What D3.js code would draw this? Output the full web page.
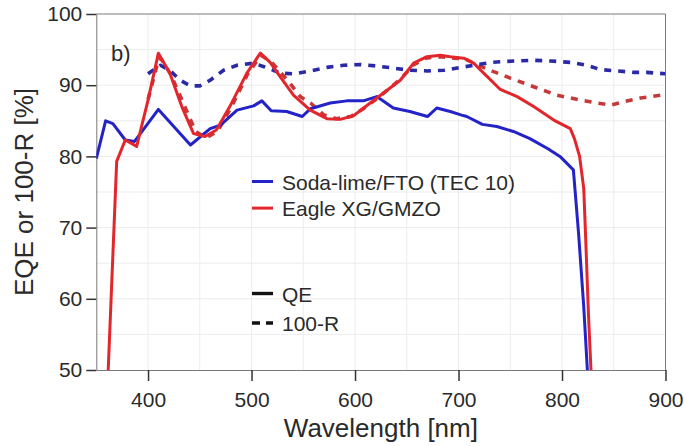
<!DOCTYPE html>
<html>
<head>
<meta charset="utf-8">
<script src="https://cdn.jsdelivr.net/npm/d3@7.9.0/dist/d3.min.js"></script>
<style>
  body { margin: 0; background: #fff; }
  svg { display: block; font-family: 'Liberation Sans', Arial, sans-serif; }
  .grid line { stroke: #ececec; stroke-width: 1; }
  .axis path, .axis line { stroke: #7a7a7a; }
  .axis .tick line { stroke: #333; stroke-width: 1.5; }
  .axis text { font-size: 21px; fill: #2a2a2a; }
</style>
</head>
<body>
<svg id="chart" width="684" height="446"></svg>
<script>
// Soda-lime/FTO QE
const sodaQE_nm = [350, 359, 366, 378, 387, 410, 441, 460, 470, 486, 502, 510, 519, 534, 549, 557, 576, 592, 608, 621, 637, 653, 670, 679, 692, 703, 708, 723, 737, 753, 769, 786, 798, 811, 816, 821, 824.5];
const sodaQE = [79.7, 85.0, 84.6, 82.3, 82.1, 86.6, 81.6, 83.9, 84.4, 86.5, 87.1, 87.8, 86.4, 86.3, 85.6, 86.7, 87.5, 87.8, 87.8, 88.4, 86.8, 86.3, 85.6, 86.8, 86.3, 85.8, 85.6, 84.5, 84.2, 83.5, 82.5, 81.1, 80.0, 78.1, 69.2, 58.9, 50];

// Soda-lime/FTO 100-R
const soda100R_nm = [400, 412, 421, 431, 441, 450, 460, 473, 486, 502, 512, 528, 541, 557, 573, 589, 605, 621, 637, 653, 670, 686, 702, 715, 731, 753, 773, 789, 808, 824, 837, 853, 870, 882, 900];
const soda100R = [91.6, 92.8, 92.1, 90.7, 89.9, 89.9, 90.7, 92.1, 92.8, 93.1, 92.6, 91.7, 91.6, 92.0, 92.5, 92.8, 92.9, 92.7, 92.4, 92.1, 92.0, 92.1, 92.5, 92.8, 93.2, 93.4, 93.5, 93.4, 93.2, 92.8, 92.2, 92.0, 91.8, 91.8, 91.6];

// Eagle XG/GMZO QE
const eagleQE_nm = [361.5, 369.7, 378, 389, 400, 410, 421, 432.6, 444, 455, 466, 479, 495.5, 508.5, 518, 527.6, 540.5, 556.7, 572.8, 585.7, 598.5, 614.7, 631, 643.7, 656.6, 669.5, 682.4, 692, 705, 714.6, 724.3, 740.4, 756.6, 772.6, 792, 808, 812, 817, 821, 823, 825.5, 828];
const eagleQE = [50, 79.3, 82.3, 81.4, 87.9, 94.5, 91.7, 87.0, 83.2, 82.8, 83.7, 87.0, 91.7, 94.5, 93.2, 91.2, 88.6, 86.5, 85.3, 85.2, 85.7, 87.5, 89.3, 90.7, 93.1, 94.0, 94.2, 94.0, 93.8, 93.1, 91.7, 89.4, 88.4, 87.0, 85.1, 83.9, 82.5, 80.0, 75.5, 68.0, 58.0, 50];

// Eagle XG/GMZO 100-R
const eagle100R_nm = [400, 410.5, 413, 422, 434, 446, 456, 467, 480, 496, 509, 519, 528, 537, 547, 557, 570, 582, 596, 608, 620, 632, 645, 656, 668, 682, 695, 706, 714.6, 734, 750, 776, 795, 818, 834, 847, 860, 876, 900];
const eagle100R = [88.0, 93.8, 93.6, 91.5, 87.5, 83.5, 82.6, 83.5, 86.8, 91.5, 94.2, 93.3, 91.8, 90.3, 88.4, 87.5, 85.8, 85.3, 85.6, 86.7, 88.0, 89.4, 91.0, 92.8, 93.8, 94.0, 93.8, 93.7, 93.1, 91.9, 91.0, 89.6, 88.6, 87.9, 87.5, 87.2, 87.7, 88.2, 88.7];

const xTicks = [400, 500, 600, 700, 800, 900];
const yTicks = [50, 60, 70, 80, 90, 100];
const seriesLabels = ['Soda-lime/FTO (TEC 10)', 'Eagle XG/GMZO'];
const styleLabels = ['QE', '100-R'];

const blue = '#2323c8';
const blueDash = '#2a2aa8';
const red = '#e3262c';
const redDash = '#c6393a';

const svg = d3.select('#chart');
const margin = { left: 96.3, right: 18.5, top: 14, bottom: 76 };
const W = 684, H = 446;

const x = d3.scaleLinear().domain([350, 900]).range([margin.left, W - margin.right]);
const y = d3.scaleLinear().domain([50, 100]).range([H - margin.bottom, margin.top]);

// faint grid
const grid = svg.append('g').attr('class', 'grid');
grid.selectAll('.gx').data(d3.range(400, 900, 50)).join('line')
  .attr('x1', d => x(d)).attr('x2', d => x(d))
  .attr('y1', y(50)).attr('y2', y(100));
grid.selectAll('.gy').data(d3.range(55, 100, 5)).join('line')
  .attr('y1', d => y(d)).attr('y2', d => y(d))
  .attr('x1', x(350)).attr('x2', x(900));

// frame top/right
svg.append('path')
  .attr('d', `M${x(350)},${y(100)}H${x(900)}V${y(50)}`)
  .attr('fill', 'none').attr('stroke', '#7a7a7a');

// axes
svg.append('g').attr('class', 'axis')
  .attr('transform', `translate(0,${y(50)})`)
  .call(d3.axisBottom(x).tickValues(xTicks).tickSize(11).tickPadding(11).tickSizeOuter(0));

svg.append('g').attr('class', 'axis')
  .attr('transform', `translate(${x(350)},0)`)
  .call(d3.axisLeft(y).tickValues(yTicks).tickSize(10).tickPadding(4).tickSizeOuter(0));

// clip
svg.append('clipPath').attr('id', 'plot-clip').append('rect')
  .attr('x', x(350)).attr('y', y(100))
  .attr('width', x(900) - x(350)).attr('height', y(50) - y(100));

const line = d3.line().x(d => x(d[0])).y(d => y(d[1]));
const plot = svg.append('g').attr('clip-path', 'url(#plot-clip)');

function drawSeries(nm, vals, color, dashed) {
  plot.append('path')
    .datum(d3.zip(nm, vals))
    .attr('d', line)
    .attr('fill', 'none')
    .attr('stroke', color)
    .attr('stroke-width', dashed ? 3.6 : 3)
    .attr('stroke-linejoin', 'round')
    .attr('stroke-dasharray', dashed ? '7,7' : null);
}

drawSeries(eagle100R_nm, eagle100R, redDash, true);
drawSeries(soda100R_nm, soda100R, blueDash, true);
drawSeries(sodaQE_nm, sodaQE, blue, false);
drawSeries(eagleQE_nm, eagleQE, red, false);

// panel label
svg.append('text').attr('x', 111).attr('y', 61)
  .attr('font-size', 22).attr('fill', '#2a2a2a').text('b)');

// legends
const leg = svg.append('g');
[blue, red].forEach((c, i) => {
  const ly = 181.5 + i * 26.6;
  leg.append('line').attr('x1', 252).attr('x2', 273).attr('y1', ly).attr('y2', ly)
    .attr('stroke', c).attr('stroke-width', 3);
  leg.append('text').attr('x', 282).attr('y', ly + 8).attr('font-size', 21)
    .attr('fill', '#2a2a2a').text(seriesLabels[i]);
});
styleLabels.forEach((t, i) => {
  const ly = 293.5 + i * 29.5;
  leg.append('line').attr('x1', 252).attr('x2', 273).attr('y1', ly).attr('y2', ly)
    .attr('stroke', '#111').attr('stroke-width', 3.4)
    .attr('stroke-dasharray', i === 1 ? '8,6' : null);
  leg.append('text').attr('x', 282).attr('y', ly + 8).attr('font-size', 21)
    .attr('fill', '#2a2a2a').text(t);
});

// axis titles
svg.append('text').attr('x', (x(350) + x(900)) / 2).attr('y', 437)
  .attr('text-anchor', 'middle').attr('font-size', 26).attr('fill', '#2a2a2a')
  .text('Wavelength [nm]');
svg.append('text').attr('transform', `translate(33,${(y(50) + y(100)) / 2}) rotate(-90)`)
  .attr('text-anchor', 'middle').attr('font-size', 26).attr('fill', '#2a2a2a')
  .text('EQE or 100-R [%]');
</script>
</body>
</html>
